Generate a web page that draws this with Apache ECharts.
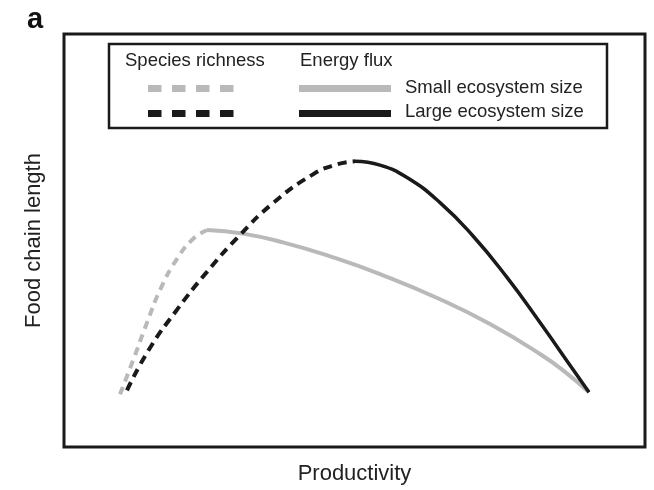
<!DOCTYPE html>
<html>
<head>
<meta charset="utf-8">
<script src="https://cdn.jsdelivr.net/npm/echarts@6/dist/echarts.min.js"></script>
<style>
html,body{margin:0;padding:0;background:#fff;}
#chart{width:654px;height:490px;}
</style>
</head>
<body>
<div id="chart"></div>
<script>
// Schematic data (arbitrary units, 0-100 on both axes)
const smallRichnessX = [9.64, 11.88, 14.29, 16.70, 19.45, 22.20, 24.61];
const smallRichnessY = [12.77, 20.96, 30.12, 38.55, 45.54, 50.36, 52.53];

const smallFluxX = [24.61, 30.81, 37.69, 46.30, 54.39, 64.72, 73.32, 81.93, 86.23, 90.36];
const smallFluxY = [52.53, 51.66, 49.54, 45.93, 41.86, 35.78, 29.76, 22.53, 18.19, 13.25];

const largeRichnessX = [10.84, 14.63, 19.45, 24.61, 29.95, 35.97, 42.86, 46.99, 50.09];
const largeRichnessY = [13.73, 23.61, 33.25, 42.41, 50.84, 59.04, 66.02, 68.43, 69.16];

const largeFluxX = [50.09, 54.39, 59.04, 64.72, 70.40, 76.25, 81.93, 87.61, 90.36];
const largeFluxY = [69.16, 68.24, 65.25, 59.18, 51.08, 41.06, 30.12, 18.77, 13.25];

const legendHeaders = ['Species richness', 'Energy flux'];
const legendRows = ['Small ecosystem size', 'Large ecosystem size'];

const GREY = '#b9b9b9';
const BLACK = '#1a1a1a';
const FONT = '"Liberation Sans", Arial, sans-serif';

function pairs(xs, ys) { return xs.map((x, i) => [x, ys[i]]); }

const chart = echarts.init(document.getElementById('chart'), null, {renderer: 'canvas'});

const option = {
  backgroundColor: '#fff',
  animation: false,
  grid: {
    left: 64, right: 9, top: 34, bottom: 41,
    show: true, borderColor: BLACK, borderWidth: 3, backgroundColor: 'transparent'
  },
  xAxis: {
    type: 'value', min: 0, max: 100,
    name: 'Productivity', nameLocation: 'middle', nameGap: 16,
    nameTextStyle: {fontFamily: FONT, fontSize: 22, color: '#222'},
    axisLine: {show: false}, axisTick: {show: false}, axisLabel: {show: false}, splitLine: {show: false}
  },
  yAxis: {
    type: 'value', min: 0, max: 100,
    name: 'Food chain length', nameLocation: 'middle', nameGap: 19,
    nameTextStyle: {fontFamily: FONT, fontSize: 22, color: '#222'},
    axisLine: {show: false}, axisTick: {show: false}, axisLabel: {show: false}, splitLine: {show: false}
  },
  series: [
    {
      type: 'line', data: pairs(smallFluxX, smallFluxY), smooth: 0.5, symbol: 'none',
      lineStyle: {color: GREY, width: 4, cap: 'butt'}
    },
    {
      type: 'line', data: pairs(smallRichnessX, smallRichnessY), smooth: 0.5, symbol: 'none',
      lineStyle: {color: GREY, width: 4, type: [8, 6], cap: 'butt'}
    },
    {
      type: 'line', data: pairs(largeRichnessX, largeRichnessY), smooth: 0.5, symbol: 'none',
      lineStyle: {color: BLACK, width: 4, type: [9, 6], cap: 'butt'}
    },
    {
      type: 'line', data: pairs(largeFluxX, largeFluxY), smooth: 0.5, symbol: 'none',
      lineStyle: {color: BLACK, width: 3.5, cap: 'butt'}
    }
  ],
  graphic: [
    {type: 'text', left: 27, top: 5, style: {text: 'a', font: 'bold 29px ' + FONT, fill: '#111'}},
    {type: 'rect', shape: {x: 109, y: 44, width: 498, height: 84},
      style: {fill: 'transparent', stroke: BLACK, lineWidth: 2.5}},
    {type: 'text', x: 125, y: 61, style: {text: legendHeaders[0], font: '18.5px ' + FONT, fill: '#222', textVerticalAlign: 'middle'}},
    {type: 'text', x: 300, y: 61, style: {text: legendHeaders[1], font: '18.5px ' + FONT, fill: '#222', textVerticalAlign: 'middle'}},
    {type: 'line', shape: {x1: 148, y1: 88.5, x2: 235, y2: 88.5},
      style: {stroke: GREY, lineWidth: 7, lineDash: [13.5, 10.5]}},
    {type: 'line', shape: {x1: 299, y1: 88.5, x2: 391, y2: 88.5},
      style: {stroke: GREY, lineWidth: 7}},
    {type: 'line', shape: {x1: 148, y1: 113.5, x2: 235, y2: 113.5},
      style: {stroke: BLACK, lineWidth: 7, lineDash: [13.5, 10.5]}},
    {type: 'line', shape: {x1: 299, y1: 113.5, x2: 391, y2: 113.5},
      style: {stroke: BLACK, lineWidth: 7}},
    {type: 'text', x: 405, y: 88, style: {text: legendRows[0], font: '18.5px ' + FONT, fill: '#222', textVerticalAlign: 'middle'}},
    {type: 'text', x: 405, y: 112, style: {text: legendRows[1], font: '18.5px ' + FONT, fill: '#222', textVerticalAlign: 'middle'}}
  ]
};
chart.setOption(option);
</script>
</body>
</html>
